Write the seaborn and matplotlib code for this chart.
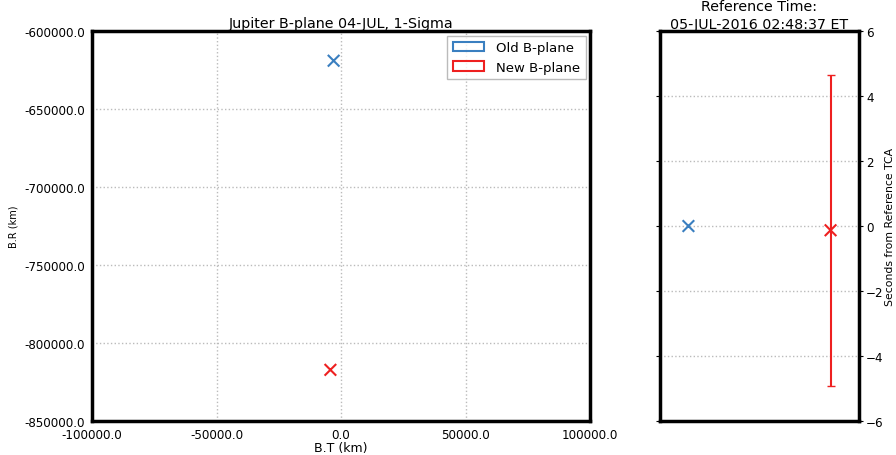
import numpy as np
import pandas as pd
import matplotlib
matplotlib.use("Agg")
import matplotlib.pyplot as plt
import seaborn as sns
from matplotlib.patches import Patch
from matplotlib.ticker import FormatStrFormatter

# B-plane points (km)
bplane_labels = ["Old B-plane", "New B-plane"]
bt_values = [-3000.0, -4300.0]
br_values = [-619000.0, -817200.0]

# time offsets from reference TCA (s)
tca_x = [1, 2]
tca_offsets = [0.0, -0.13]
tca_sigma = [0.0, 4.78]

colors = ["#3a7fc0", "#ee2020"]

sns.set_style("whitegrid")
plt.rcParams["font.family"] = ["DejaVu Sans"]
plt.rcParams["text.color"] = "black"
plt.rcParams["axes.labelcolor"] = "black"

fig = plt.figure(figsize=(8.96, 4.56), dpi=100)
ax1 = fig.add_axes([0.1027, 0.0746, 0.556, 0.855])
ax2 = fig.add_axes([0.7366, 0.0746, 0.2221, 0.855])

df = pd.DataFrame({"bt": bt_values, "br": br_values, "case": bplane_labels})

sns.scatterplot(data=df, x="bt", y="br", hue="case", palette=colors,
                marker="x", s=70, linewidth=1.5, legend=False, ax=ax1)

ax1.set_xlim(-100000, 100000)
ax1.set_ylim(-850000, -600000)
ax1.set_xticks(np.arange(-100000, 100001, 50000))
ax1.set_yticks(np.arange(-850000, -599999, 50000))
ax1.xaxis.set_major_formatter(FormatStrFormatter("%.1f"))
ax1.yaxis.set_major_formatter(FormatStrFormatter("%.1f"))
ax1.set_title("Jupiter B-plane 04-JUL, 1-Sigma", fontsize=10.3, pad=3)
ax1.set_xlabel("B.T (km)", fontsize=9, labelpad=0)
ax1.set_ylabel("B.R (km)", fontsize=7, labelpad=4)

handles = [Patch(facecolor="none", edgecolor=c, linewidth=1.5, label=l)
           for c, l in zip(colors, bplane_labels)]
leg = ax1.legend(handles=handles, loc="upper right", fontsize=9.5,
                 fancybox=False, frameon=True, borderaxespad=0.35,
                 handlelength=2.4, borderpad=0.4, labelspacing=0.5,
                 handletextpad=0.9)
leg.get_frame().set_edgecolor("#aaaaaa")
leg.get_frame().set_linewidth(1.0)

# right panel: time of closest approach
sns.scatterplot(x=tca_x, y=tca_offsets, hue=bplane_labels, palette=colors,
                marker="x", s=70, linewidth=1.5, legend=False, ax=ax2)
ax2.errorbar(tca_x[1], tca_offsets[1], yerr=tca_sigma[1], color=colors[1],
             linewidth=1.5, capsize=3, fmt="none")
ax2.set_xlim(0.8, 2.2)
ax2.set_ylim(-6, 6)
ax2.set_xticks([])
ax2.yaxis.tick_right()
ax2.yaxis.set_label_position("right")
ax2.set_ylabel("Seconds from Reference TCA", fontsize=7.8, labelpad=1)
ax2.set_title("Reference Time:\n05-JUL-2016 02:48:37 ET", fontsize=10.3,
              pad=1, linespacing=1.35)

for ax in (ax1, ax2):
    ax.grid(True, linestyle=":", color="#bbbbbb", linewidth=1.0)
    for sp in ax.spines.values():
        sp.set_color("black")
        sp.set_linewidth(2.5)
    ax.tick_params(labelsize=8.6, length=3, width=0.8, pad=2, colors="black")
ax2.grid(False, axis="x")
ax2.tick_params(axis="y", which="both", right=True, left=True)

fig.savefig("out.png", dpi=100)
